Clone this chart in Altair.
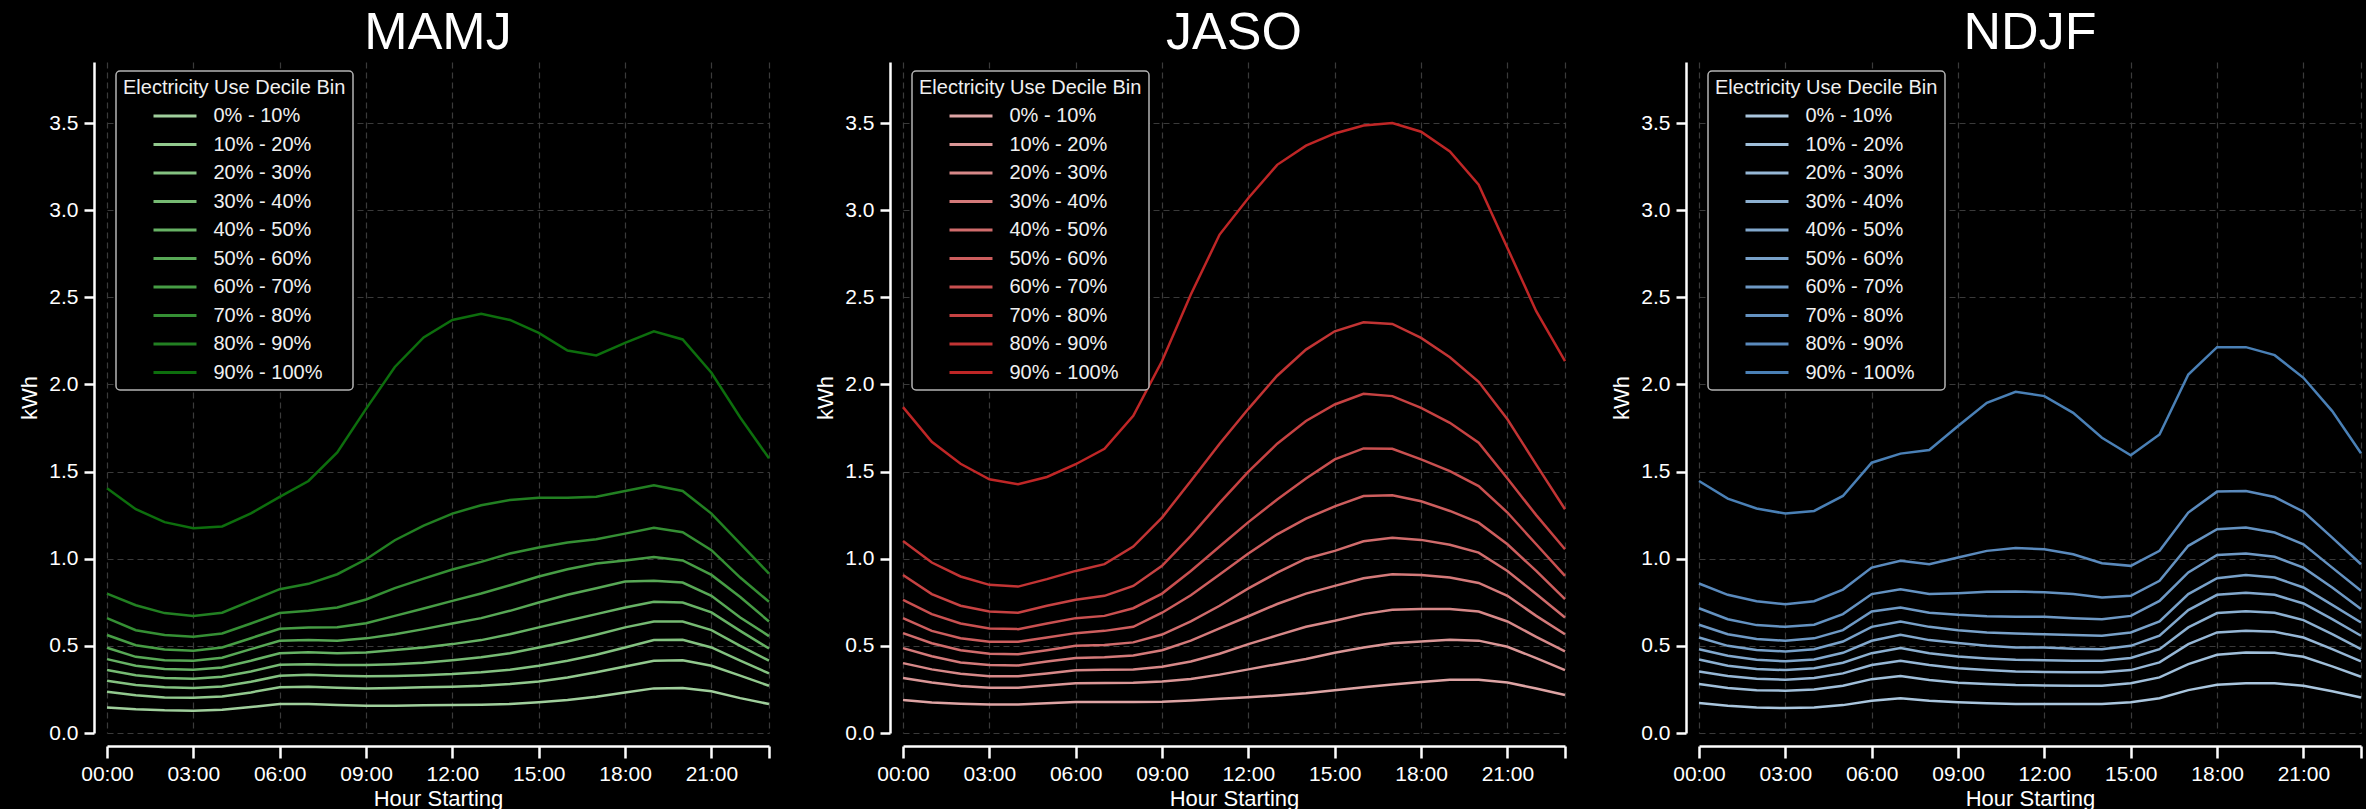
import altair as alt
import pandas as pd

hours = list(range(24))
bins = ["0% - 10%", "10% - 20%", "20% - 30%", "30% - 40%", "40% - 50%",
        "50% - 60%", "60% - 70%", "70% - 80%", "80% - 90%", "90% - 100%"]
x_ticks = [0, 3, 6, 9, 12, 15, 18, 21, 23]
y_ticks = [0.0, 0.5, 1.0, 1.5, 2.0, 2.5, 3.0, 3.5]

# MAMJ
mamj_00 = [0.147,0.136,0.130,0.128,0.134,0.149,0.166,0.166,0.160,0.157,0.157,0.159,0.160,0.162,0.166,0.176,0.189,0.208,0.233,0.256,0.258,0.239,0.200,0.166]
mamj_10 = [0.237,0.216,0.204,0.202,0.210,0.233,0.262,0.266,0.260,0.256,0.258,0.262,0.266,0.271,0.281,0.296,0.319,0.348,0.382,0.415,0.418,0.386,0.329,0.271]
mamj_20 = [0.300,0.275,0.262,0.258,0.267,0.294,0.329,0.334,0.329,0.325,0.327,0.332,0.338,0.348,0.363,0.386,0.415,0.449,0.491,0.533,0.535,0.491,0.415,0.342]
mamj_30 = [0.361,0.332,0.315,0.311,0.323,0.353,0.392,0.395,0.390,0.390,0.395,0.403,0.418,0.434,0.458,0.491,0.525,0.564,0.606,0.640,0.640,0.590,0.500,0.415]
mamj_40 = [0.424,0.386,0.367,0.363,0.376,0.415,0.458,0.464,0.458,0.462,0.476,0.491,0.510,0.533,0.567,0.606,0.644,0.682,0.720,0.753,0.749,0.692,0.586,0.485]
mamj_50 = [0.489,0.437,0.418,0.415,0.432,0.481,0.529,0.533,0.529,0.543,0.567,0.596,0.628,0.659,0.701,0.749,0.793,0.831,0.869,0.873,0.863,0.787,0.663,0.556]
mamj_60 = [0.562,0.504,0.479,0.472,0.491,0.544,0.598,0.606,0.607,0.630,0.672,0.714,0.758,0.800,0.848,0.898,0.940,0.972,0.990,1.010,0.990,0.907,0.780,0.640]
mamj_70 = [0.659,0.590,0.562,0.552,0.571,0.628,0.688,0.701,0.720,0.766,0.831,0.886,0.938,0.982,1.030,1.064,1.093,1.112,1.144,1.177,1.152,1.049,0.892,0.753]
mamj_80 = [0.800,0.733,0.688,0.672,0.690,0.758,0.825,0.856,0.911,0.997,1.106,1.190,1.259,1.307,1.337,1.350,1.350,1.356,1.389,1.421,1.389,1.259,1.087,0.915]
mamj_90 = [1.404,1.284,1.210,1.175,1.185,1.260,1.355,1.446,1.610,1.860,2.100,2.270,2.370,2.405,2.370,2.296,2.195,2.166,2.238,2.305,2.258,2.067,1.810,1.576]

# JASO
jaso_00 = [0.189,0.175,0.168,0.163,0.163,0.170,0.178,0.178,0.178,0.180,0.187,0.196,0.205,0.215,0.228,0.245,0.262,0.278,0.293,0.305,0.306,0.290,0.255,0.218]
jaso_10 = [0.315,0.290,0.270,0.260,0.260,0.272,0.285,0.287,0.288,0.295,0.310,0.335,0.365,0.395,0.425,0.460,0.490,0.515,0.525,0.535,0.530,0.495,0.430,0.361]
jaso_20 = [0.401,0.365,0.340,0.326,0.325,0.342,0.360,0.363,0.365,0.380,0.410,0.455,0.510,0.560,0.610,0.644,0.682,0.707,0.711,0.711,0.697,0.640,0.552,0.468]
jaso_30 = [0.487,0.440,0.405,0.390,0.388,0.410,0.430,0.435,0.445,0.475,0.530,0.600,0.670,0.740,0.800,0.844,0.888,0.911,0.907,0.892,0.861,0.787,0.672,0.567]
jaso_40 = [0.573,0.515,0.475,0.455,0.452,0.475,0.500,0.505,0.520,0.565,0.640,0.730,0.830,0.920,1.000,1.045,1.100,1.120,1.108,1.080,1.035,0.930,0.797,0.663]
jaso_50 = [0.659,0.586,0.544,0.523,0.523,0.548,0.573,0.586,0.609,0.690,0.790,0.910,1.030,1.140,1.230,1.300,1.360,1.364,1.330,1.274,1.207,1.083,0.930,0.768]
jaso_60 = [0.764,0.682,0.628,0.600,0.596,0.628,0.659,0.672,0.716,0.800,0.930,1.070,1.210,1.340,1.460,1.570,1.633,1.631,1.570,1.503,1.417,1.265,1.083,0.902]
jaso_70 = [0.907,0.797,0.730,0.697,0.690,0.730,0.764,0.787,0.844,0.959,1.131,1.320,1.500,1.660,1.790,1.885,1.946,1.933,1.866,1.780,1.666,1.460,1.250,1.054]
jaso_80 = [1.102,0.978,0.898,0.850,0.840,0.883,0.930,0.969,1.070,1.236,1.446,1.660,1.860,2.050,2.200,2.305,2.357,2.347,2.267,2.156,2.015,1.800,1.540,1.284]
jaso_90 = [1.870,1.671,1.545,1.456,1.427,1.469,1.542,1.631,1.820,2.134,2.516,2.860,3.070,3.260,3.370,3.440,3.486,3.500,3.450,3.337,3.146,2.783,2.420,2.134]

# NDJF
ndjf_00 = [0.172,0.157,0.147,0.143,0.147,0.160,0.185,0.199,0.185,0.176,0.170,0.166,0.166,0.166,0.166,0.176,0.199,0.246,0.277,0.285,0.285,0.271,0.239,0.204]
ndjf_10 = [0.281,0.258,0.246,0.243,0.250,0.271,0.309,0.327,0.304,0.288,0.281,0.275,0.273,0.271,0.271,0.285,0.319,0.395,0.449,0.462,0.460,0.437,0.382,0.323]
ndjf_20 = [0.353,0.327,0.311,0.306,0.315,0.342,0.390,0.415,0.390,0.372,0.361,0.353,0.350,0.348,0.348,0.361,0.405,0.510,0.577,0.586,0.581,0.548,0.481,0.411]
ndjf_30 = [0.422,0.386,0.367,0.361,0.371,0.403,0.458,0.487,0.457,0.439,0.428,0.420,0.418,0.415,0.415,0.430,0.481,0.606,0.688,0.699,0.690,0.648,0.567,0.481]
ndjf_40 = [0.481,0.443,0.420,0.411,0.422,0.460,0.529,0.564,0.533,0.516,0.500,0.491,0.491,0.483,0.481,0.500,0.558,0.705,0.793,0.804,0.793,0.743,0.653,0.558]
ndjf_50 = [0.548,0.500,0.476,0.468,0.481,0.525,0.609,0.640,0.609,0.590,0.577,0.571,0.567,0.562,0.558,0.577,0.640,0.797,0.888,0.907,0.892,0.835,0.735,0.634]
ndjf_60 = [0.621,0.567,0.539,0.529,0.543,0.590,0.697,0.720,0.690,0.678,0.670,0.667,0.667,0.659,0.653,0.672,0.758,0.921,1.022,1.030,1.011,0.949,0.835,0.711]
ndjf_70 = [0.716,0.653,0.619,0.609,0.621,0.682,0.797,0.825,0.797,0.802,0.810,0.812,0.808,0.797,0.777,0.787,0.873,1.074,1.169,1.179,1.150,1.083,0.949,0.816]
ndjf_80 = [0.858,0.793,0.756,0.739,0.756,0.823,0.949,0.988,0.968,1.007,1.045,1.062,1.054,1.026,0.974,0.959,1.045,1.265,1.385,1.389,1.354,1.270,1.121,0.968]
ndjf_90 = [1.446,1.345,1.288,1.259,1.274,1.360,1.551,1.603,1.624,1.761,1.895,1.958,1.933,1.837,1.694,1.593,1.713,2.057,2.214,2.214,2.168,2.038,1.847,1.605]

greens = ["#a0cf9c", "#92c98e", "#84c281", "#76ba73", "#67b265", "#58a856", "#479d45", "#358f34", "#228022", "#0d6e0d"]
reds = ["#dea4a4", "#da9696", "#d78888", "#d47a7a", "#d06c6c", "#cd5e5e", "#c95050", "#c64242", "#c23434", "#bf2626"]
blues = ["#aac6de", "#a0bfda", "#96b7d6", "#8cb0d1", "#82a8cd", "#78a1c9", "#6e99c5", "#6492c1", "#5a8abd", "#4a80b6"]

FONT = "Liberation Sans"


def panel(name, series, colors):
    rows = []
    for b, vals in zip(bins, series):
        for h, v in zip(hours, vals):
            rows.append({"hour": h, "kwh": v, "bin": b})
    df = pd.DataFrame(rows)
    return alt.Chart(df).mark_line(strokeWidth=2.5).encode(
        x=alt.X("hour:Q",
                scale=alt.Scale(domain=[0, 23], nice=False, zero=False),
                axis=alt.Axis(values=x_ticks, title="Hour Starting",
                              labelExpr="datum.value == 23 ? '' : (datum.value < 10 ? '0' : '') + datum.value + ':00'",
                              offset=13, tickSize=12, labelPadding=5, labelFlush=False,
                              labelOverlap=False, titlePadding=4)),
        y=alt.Y("kwh:Q",
                scale=alt.Scale(domain=[0, 3.85], nice=False),
                axis=alt.Axis(values=y_ticks, format=".1f", title="kWh",
                              offset=13, tickSize=10, labelPadding=6, titlePadding=7)),
        color=alt.Color("bin:N", sort=bins,
                        scale=alt.Scale(domain=bins, range=colors),
                        legend=alt.Legend(title="Electricity Use Decile Bin",
                                          orient="top-left", offset=9, padding=7,
                                          fillColor="black", strokeColor="#b4b4b4",
                                          cornerRadius=4, titleLimit=500, labelLimit=300,
                                          symbolType="M-2,0H2", symbolSize=462,
                                          symbolStrokeWidth=3, symbolOffset=39.5,
                                          labelOffset=26, rowPadding=5.5,
                                          titlePadding=5.5)),
    ).properties(width=662, height=671,
                 title=alt.TitleParams(name, fontSize=52, font=FONT, color="white",
                                       fontWeight="normal", offset=2, anchor="middle"))


chart = alt.hconcat(
    panel("MAMJ", [mamj_00, mamj_10, mamj_20, mamj_30, mamj_40, mamj_50, mamj_60, mamj_70, mamj_80, mamj_90], greens),
    panel("JASO", [jaso_00, jaso_10, jaso_20, jaso_30, jaso_40, jaso_50, jaso_60, jaso_70, jaso_80, jaso_90], reds),
    panel("NDJF", [ndjf_00, ndjf_10, ndjf_20, ndjf_30, ndjf_40, ndjf_50, ndjf_60, ndjf_70, ndjf_80, ndjf_90], blues),
    spacing=40,
).resolve_scale(color="independent").resolve_legend(color="independent").properties(
    background="black",
    padding={"left": 18, "top": 7, "right": 0, "bottom": 0},
).configure_view(stroke=None).configure_axis(
    domainColor="white", domainWidth=2.5, tickColor="white", tickWidth=2.5,
    labelColor="white", titleColor="white", labelFont=FONT, titleFont=FONT,
    labelFontSize=21, titleFontSize=22, titleFontWeight="normal",
    gridColor="#3a3a3a", gridDash=[6, 4], gridWidth=1.2,
).configure_legend(
    labelFont=FONT, titleFont=FONT, labelFontSize=20, titleFontSize=20,
    labelColor="#f0f0f0", titleColor="#f0f0f0", titleFontWeight="normal",
    strokeWidth=1.5,
)

chart.save("out.html", embed_options={"renderer": "svg", "actions": False})
